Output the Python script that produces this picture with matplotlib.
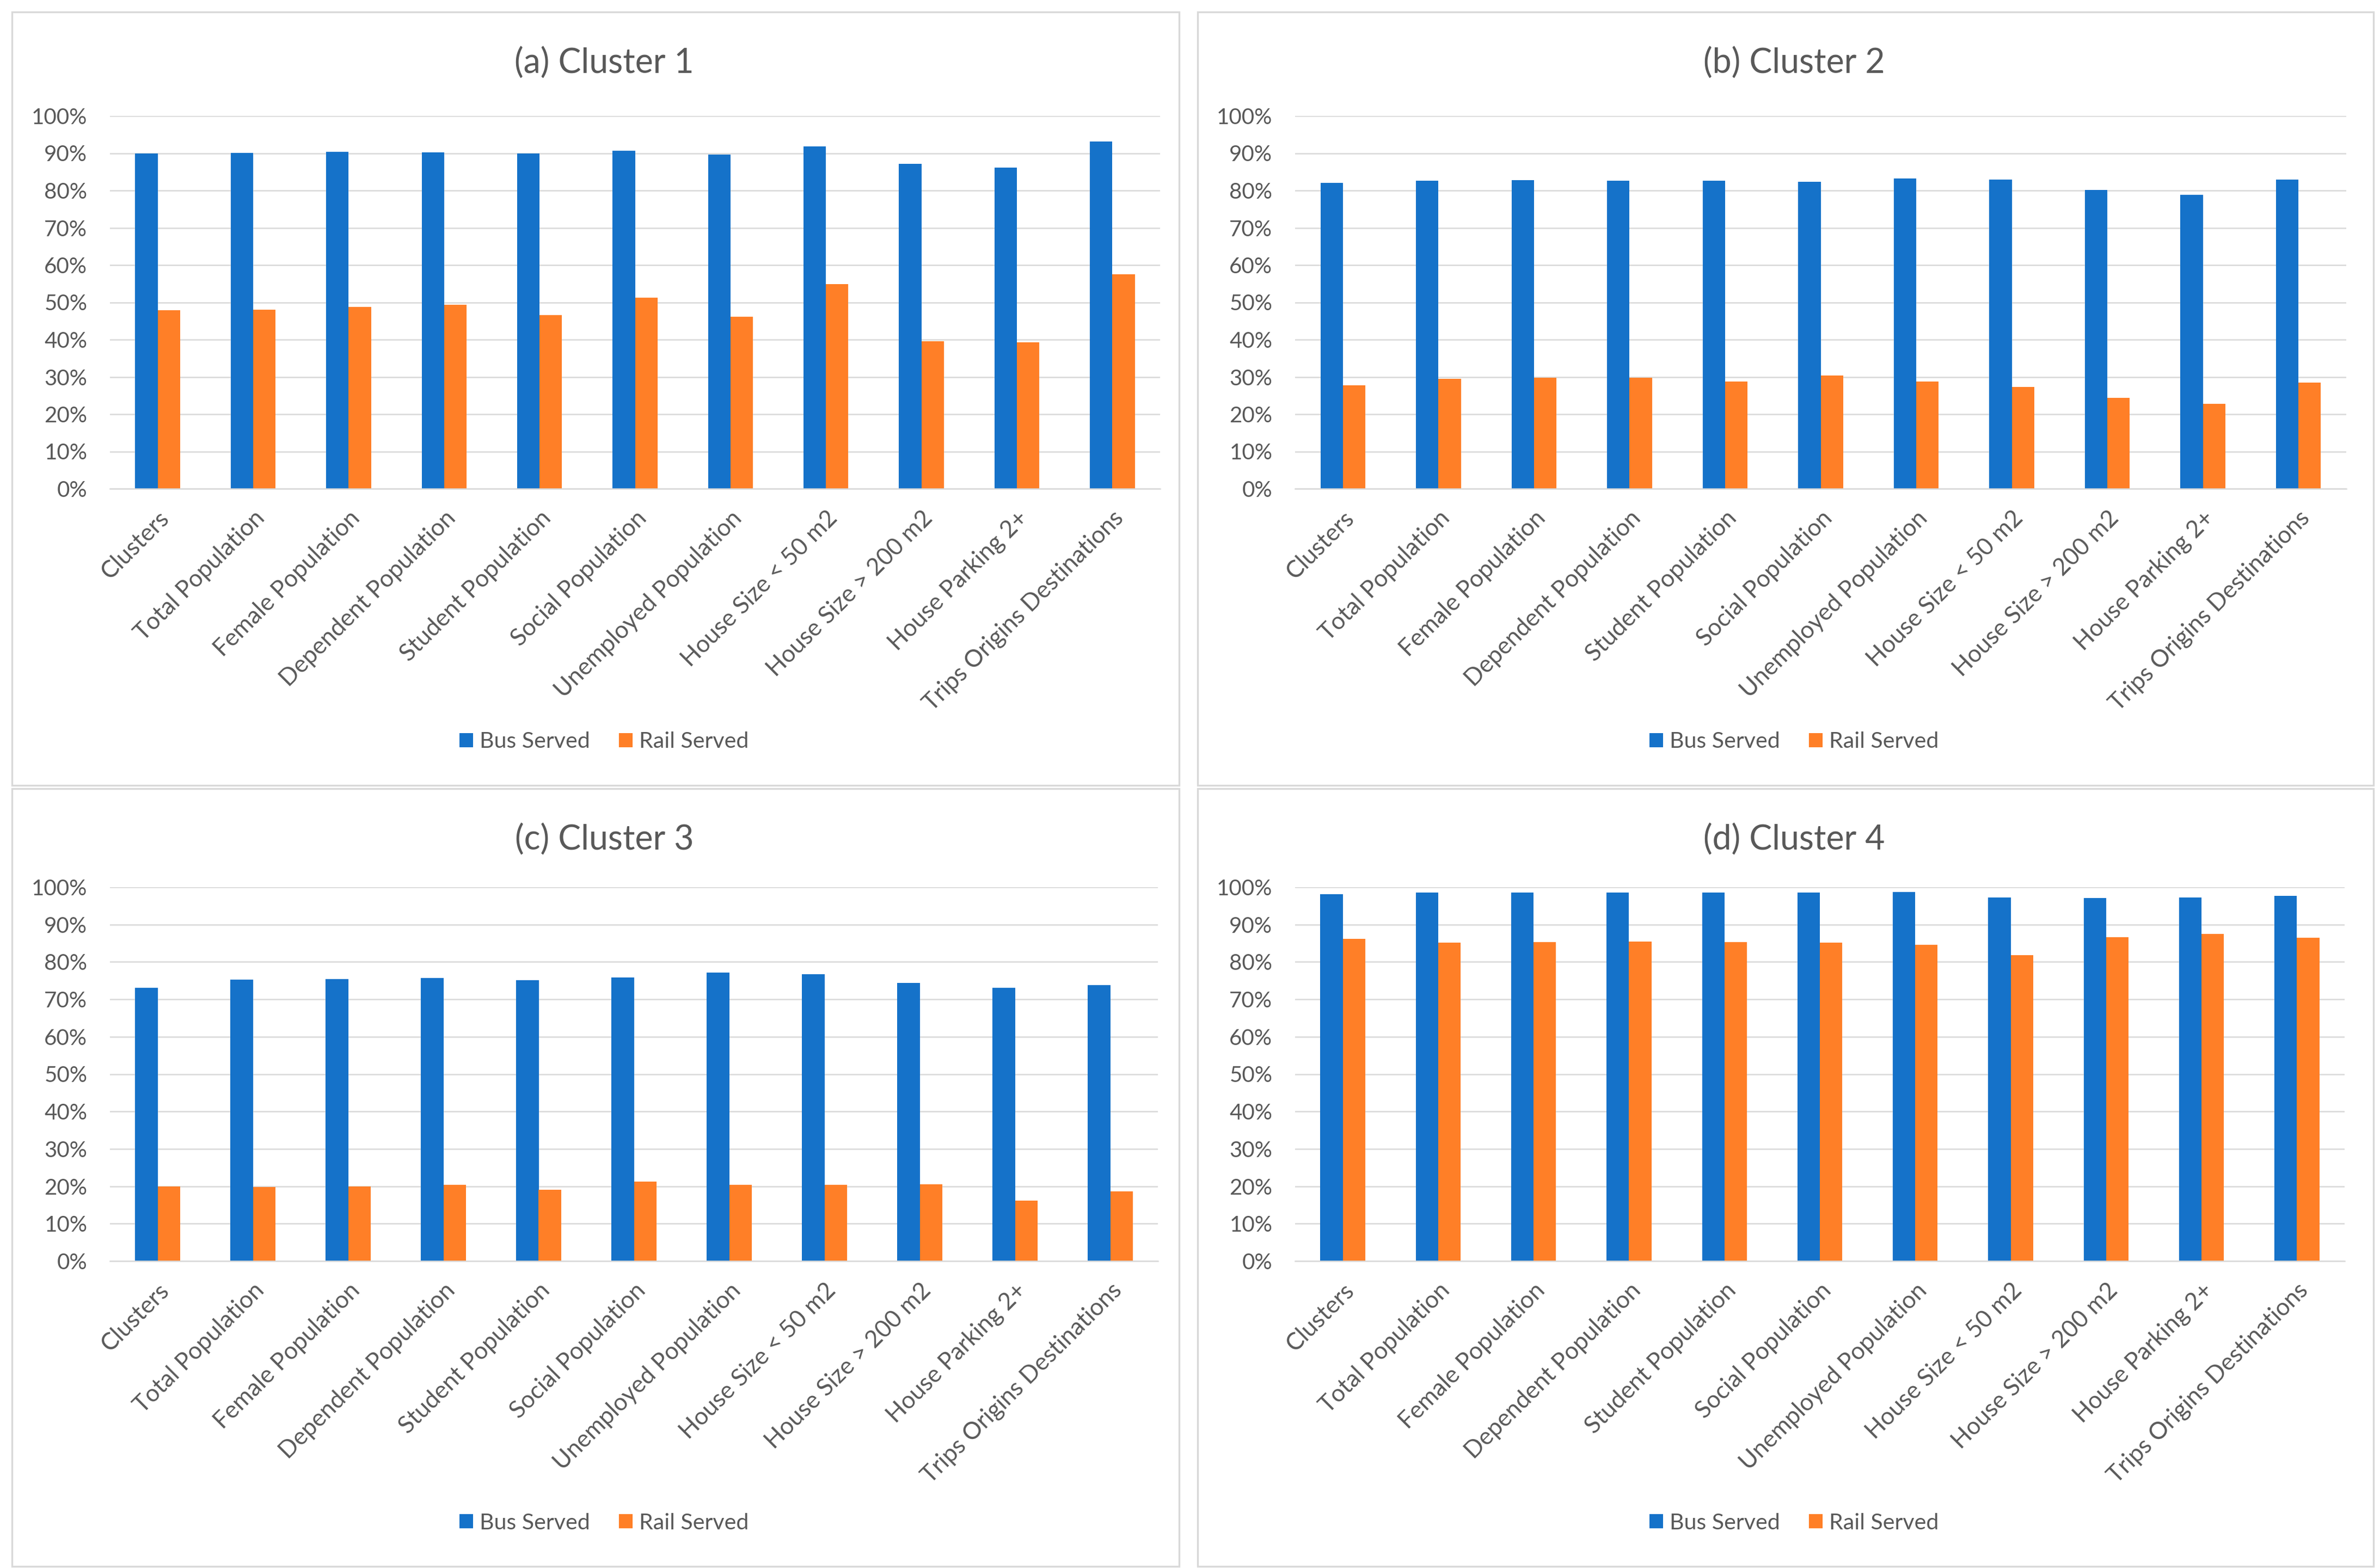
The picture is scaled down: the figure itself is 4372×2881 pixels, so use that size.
import numpy as np
import matplotlib
matplotlib.use('Agg')
import matplotlib.pyplot as plt
from matplotlib.patches import Rectangle

plt.rcParams['font.family'] = ['Lato', 'DejaVu Sans']

categories = ['Clusters', 'Total Population', 'Female Population', 'Dependent Population',
              'Student Population', 'Social Population', 'Unemployed Population',
              'House Size < 50 m2', 'House Size > 200 m2', 'House Parking 2+',
              'Trips Origins Destinations']
series_names = ['Bus Served', 'Rail Served']
titles = ['(a) Cluster 1', '(b) Cluster 2', '(c) Cluster 3', '(d) Cluster 4']

# values in percent
bus_c1 = [90.0, 90.1, 90.4, 90.2, 89.9, 90.6, 89.7, 91.8, 87.1, 86.2, 93.1]
rail_c1 = [47.9, 48.1, 48.7, 49.4, 46.6, 51.3, 46.1, 54.9, 39.5, 39.2, 57.5]
bus_c2 = [82.1, 82.7, 82.8, 82.7, 82.7, 82.4, 83.2, 82.9, 80.1, 78.8, 82.9]
rail_c2 = [27.7, 29.5, 29.8, 29.8, 28.8, 30.3, 28.8, 27.3, 24.4, 22.8, 28.5]
bus_c3 = [73.0, 75.3, 75.4, 75.7, 75.1, 75.9, 77.1, 76.7, 74.4, 73.1, 73.8]
rail_c3 = [19.9, 19.8, 19.9, 20.4, 19.0, 21.2, 20.4, 20.4, 20.5, 16.2, 18.6]
bus_c4 = [98.1, 98.6, 98.6, 98.6, 98.6, 98.6, 98.7, 97.3, 97.1, 97.3, 97.6]
rail_c4 = [86.1, 85.2, 85.3, 85.5, 85.3, 85.1, 84.5, 81.8, 86.6, 87.5, 86.4]

yticks = list(range(0, 101, 10))

W, H = 4372, 2881
DPI = 200
BLUE = '#1572C9'
ORANGE = '#FF7F27'
GRID = '#D9D9D9'
TXT = '#595959'

fig = plt.figure(figsize=(W / DPI, H / DPI), dpi=DPI)

# panel frames (x0, y0, x1, y1 in pixels from top-left) and plot areas
panels = [(22, 22, 2166, 1443), (2200, 22, 4360, 1443),
          (22, 1449, 2166, 2878), (2200, 1449, 4360, 2878)]
plot_areas = [(202, 213, 2131, 898), (2379, 213, 4310, 898),
              (202, 1630, 2127, 2317), (2379, 1630, 4307, 2317)]
data = [(bus_c1, rail_c1), (bus_c2, rail_c2), (bus_c3, rail_c3), (bus_c4, rail_c4)]

x = np.arange(len(categories))
w = 0.235

for k in range(4):
    px0, py0, px1, py1 = panels[k]
    fig.add_artist(Rectangle((px0 / W, 1 - py1 / H), (px1 - px0) / W, (py1 - py0) / H,
                             transform=fig.transFigure, fill=False,
                             edgecolor=GRID, linewidth=1.2))
    ax0, ay0, ax1, ay1 = plot_areas[k]
    ax = fig.add_axes([ax0 / W, 1 - ay1 / H, (ax1 - ax0) / W, (ay1 - ay0) / H])
    bus, rail = data[k]
    b1 = ax.bar(x - w / 2, bus, width=w, color=BLUE, label=series_names[0], zorder=3)
    b2 = ax.bar(x + w / 2, rail, width=w, color=ORANGE, label=series_names[1], zorder=3)
    ax.set_xlim(-0.5, len(categories) - 0.5)
    ax.set_ylim(0, 100)
    ax.set_yticks(yticks)
    ax.set_yticklabels([f'{v}%' for v in yticks])
    ax.set_xticks(x)
    ax.set_xticklabels(categories, rotation=45, ha='right', rotation_mode='anchor')
    ax.grid(axis='y', color=GRID, linewidth=0.9, zorder=0)
    ax.set_axisbelow(True)
    for s in ['top', 'right', 'left']:
        ax.spines[s].set_visible(False)
    ax.spines['bottom'].set_color(GRID)
    ax.spines['bottom'].set_linewidth(0.9)
    ax.spines['bottom'].set_zorder(4)
    ax.tick_params(axis='y', length=0, pad=15, labelsize=14.5, labelcolor=TXT)
    ax.tick_params(axis='x', length=0, pad=12, labelsize=15.8, labelcolor=TXT)
    cx = (px0 + px1) / 2 + 16
    fig.text(cx / W, 1 - (py0 + 94) / H, titles[k], ha='center', va='center',
             fontsize=22.5, color=TXT)
    fig.legend(handles=[b1, b2], loc='center', bbox_to_anchor=(cx / W, 1 - (py1 - 80) / H),
               ncol=2, frameon=False, fontsize=14.8, labelcolor=TXT,
               handlelength=0.6, handleheight=0.6, handletextpad=0.3,
               columnspacing=1.3)

fig.savefig('out.png', dpi=DPI, facecolor='white')
